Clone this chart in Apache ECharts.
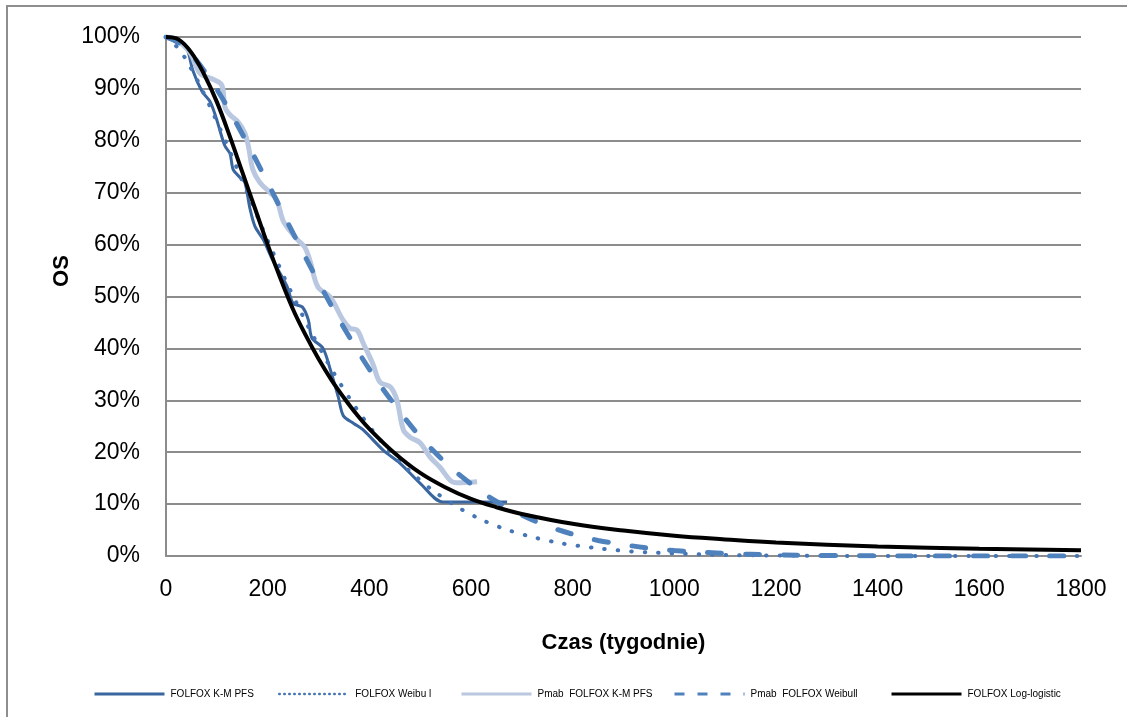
<!DOCTYPE html>
<html><head><meta charset="utf-8">
<script src="https://cdn.jsdelivr.net/npm/echarts@6/dist/echarts.min.js"></script>
<style>html,body{margin:0;padding:0;background:#fff}#c{width:1127px;height:717px}</style>
</head><body><div id="c"></div>
<script>
// ---- data (time in weeks, survival in %) ----
const seriesNames = ['FOLFOX K-M PFS','FOLFOX Weibu l','Pmab  FOLFOX K-M PFS','Pmab  FOLFOX Weibull','FOLFOX Log-logistic'];
const xTicks = [0,200,400,600,800,1000,1200,1400,1600,1800];
const yTicks = [0,10,20,30,40,50,60,70,80,90,100];

const kmFolfoxT = [0,20,40,53,71,87,100,106,116,126,132,145,155,165,175,191,210,238,250,268,280,287,309,323,339,349,370,388,427,460,500,545,671];
const kmFolfoxS = [100,99,98,93.5,89.5,87.5,84,82,79,77.5,74.5,73,72,67,63.5,61,57,52,48.7,48,45.5,42,40,36,30.6,27,25.5,24.3,20.4,17.9,14,10.4,10.4];

const wbFolfoxT = [0,25,50,75,100,125,150,175,200,250,300,350,400,450,500,550,600,650,700,750,800,900,1000,1100,1200,1400,1600,1800];
const wbFolfoxS = [100,97.7,93.8,89,83.7,78.1,72.3,66.6,60.8,50.1,40.5,32.1,25,19.2,14.6,10.9,8,5.8,4.2,3,2.1,1,0.5,0.2,0.1,0,0,0];

const kmPmabT = [0,20,47,67,96,110,116,126,142,155,162,171,185,205,218,230,245,258,273,283,299,323,348,362,376,388,407,421,441,454,467,480,500,519,539,559,572,612];
const kmPmabS = [100,99.5,97,93,91.7,90.7,86.5,85,83.6,81.5,79,74.4,71.9,70,68.6,64.7,62.5,61,59.5,57,51.8,49.9,45.5,43.9,43.5,41,37,33.5,32.6,30.1,24.3,22.9,21.8,19.1,17.1,14.6,14.1,14.3];

const wbPmabT = [0,25,50,75,100,125,150,175,200,250,300,350,400,450,500,550,600,650,700,750,800,850,900,950,1000,1100,1200,1300,1400,1500,1800];
const wbPmabS = [100,98.9,96.6,93.5,89.9,85.8,81.3,76.7,71.9,62.2,52.8,44,36,29.1,23,18,13.9,10.5,7.9,5.8,4.2,3,2.2,1.5,1.06,0.5,0.22,0.09,0.04,0,0];

const llFolfoxT = [0,25,50,75,100,125,150,175,200,225,250,275,300,325,350,375,400,450,500,550,600,650,700,800,900,1000,1100,1200,1400,1600,1800];
const llFolfoxS = [100,99.5,97,92.8,87.5,81,74,67,60,53.5,47.5,42.5,38,34,30.5,27.3,24.5,19.8,16,13.2,11,9.4,8.1,6.2,4.9,3.9,3.2,2.6,1.85,1.4,1.1];

const zip = (t, s) => t.map((v, i) => [v, s[i]]);

const chart = echarts.init(document.getElementById('c'), null, {renderer: 'canvas'});
const FONT = 'Liberation Sans';
const gridColor = '#8c8c8c';

const styles = [
  {color: '#3a66a0', width: 3, type: 'solid'},
  {color: '#4575b4', width: 4, type: [0.5, 13], cap: 'round'},
  {color: '#b9c8e0', width: 5, type: 'solid'},
  {color: '#4f81bd', width: 5, type: [14, 24], cap: 'round'},
  {color: '#000000', width: 4, type: 'solid'}
];
const legendLines = [
  {color: '#3a66a0', width: 3, type: 'solid'},
  {color: '#4575b4', width: 2.5, type: [0.5, 4.5], cap: 'round'},
  {color: '#b9c8e0', width: 3, type: 'solid'},
  {color: '#4f81bd', width: 3, type: [10, 13], cap: 'butt'},
  {color: '#000000', width: 3, type: 'solid'}
];
const datas = [zip(kmFolfoxT, kmFolfoxS), zip(wbFolfoxT, wbFolfoxS), zip(kmPmabT, kmPmabS), zip(wbPmabT, wbPmabS), zip(llFolfoxT, llFolfoxS)];
const smooths = [0.3, 0.4, 0.35, 0.4, 0.4];

const legendLefts = [93, 278, 460, 673, 890];
const legends = seriesNames.map((n, i) => ({
  data: [n], left: legendLefts[i], top: 689, itemWidth: 70, itemHeight: 6, itemGap: 0, padding: 0,
  textStyle: {fontFamily: FONT, fontSize: 10, color: '#000', padding: [0, 0, 0, 1]},
  lineStyle: legendLines[i],
  itemStyle: {opacity: 0},
  selectedMode: false
}));

chart.setOption({
  animation: false,
  backgroundColor: '#fff',
  graphic: [
    {type: 'rect', shape: {x: 7, y: 6, width: 1200, height: 800}, style: {fill: 'none', stroke: '#8e8e8e', lineWidth: 2}, z: -10},
    {type: 'text', x: 62, y: 271, rotation: Math.PI / 2, style: {text: 'OS', font: 'bold 22px "Liberation Sans"', fill: '#000', textAlign: 'center', textVerticalAlign: 'middle'}}
  ],
  legend: legends,
  grid: {left: 166, right: 46, top: 37, bottom: 161, containLabel: false},
  xAxis: {
    type: 'value', min: 0, max: 1800, interval: 200,
    name: 'Czas (tygodnie)', nameLocation: 'middle', nameGap: 76,
    nameTextStyle: {fontFamily: FONT, fontSize: 22, fontWeight: 'bold', color: '#000'},
    axisLine: {show: true, onZero: false, lineStyle: {color: gridColor, width: 2}},
    axisTick: {show: false},
    splitLine: {show: false},
    axisLabel: {fontFamily: FONT, fontSize: 23, color: '#000', margin: 22,
      formatter: v => xTicks.includes(v) ? String(v) : ''}
  },
  yAxis: {
    type: 'value', min: 0, max: 100, interval: 10,
    axisLine: {show: true, lineStyle: {color: gridColor, width: 2}},
    axisTick: {show: false},
    splitLine: {show: true, lineStyle: {color: gridColor, width: 2}},
    axisLabel: {fontFamily: FONT, fontSize: 23, color: '#000', margin: 26,
      formatter: v => yTicks.includes(v) ? v + '%' : ''}
  },
  series: seriesNames.map((n, i) => ({
    name: n, type: 'line', data: datas[i], smooth: smooths[i],
    symbol: 'none', showSymbol: false,
    lineStyle: styles[i], itemStyle: {color: styles[i].color},
    z: 2 + i
  }))
});
</script></body></html>
